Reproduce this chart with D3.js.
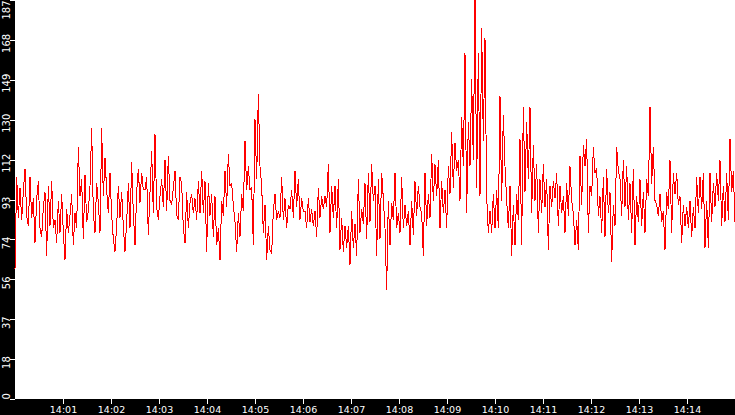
<!DOCTYPE html>
<html>
<head>
<meta charset="utf-8">
<script src="https://cdn.jsdelivr.net/npm/d3@7"></script>
<style>
  body { margin: 0; background: #fff; }
  svg { display: block; }
</style>
</head>
<body>
<svg id="chart"></svg>
<script>
const w = 735;
const h = 415;
const left = 15;
const bottom = 16;

// samples from 14:00 to 14:15 in four stretches
const startTime = "2024-01-01 14:00:00";
const endTime = "2024-01-01 14:15:00";

const valuesA = [61,104, 85,99, 84,97, 108,86, 81,104, 85,94, 73,94, 102,80, 76,90, 97,67,
  100,81, 102,80, 84,73, 93,78, 96,78, 65,89, 78,86, 96,72, 87,80, 118,95,
  103,75, 105,83, 88,100, 127,87, 78,101, 92,78, 127,95, 113,98, 87,106, 86,75,
  69,81, 100,85, 97,81, 69,83, 101,80, 111,87, 72,97, 108,92, 106,98, 98,104,
  77,97, 116,87, 124,90, 84,95, 103,90, 112,88, 114,93, 91,99, 107,86, 84,104,
  101,80, 73,97, 80,92, 96,87];
const valuesB = [94,84, 102,87, 107,87, 102,69, 101,86, 96,76, 95,72, 80,65, 93,86, 107,90,
  115,100, 101,91, 83,69, 87,76, 96,88, 121,98, 109,98, 99,72, 131,103, 143,109,
  100,78, 91,65, 81,70, 68,88, 96,84, 88,85, 104,84, 94,80, 91,89, 98,85,
  107,90, 103,84, 94,88, 88,80, 94,83, 89,81, 88,76, 99,85, 95,89, 95,90,
  110,78, 100,85, 100,80, 103,70, 85,69, 81,71, 81,63, 88,71, 82,67, 103,78,
  89,82, 101,75, 106,83, 110,93];
const valuesC = [100,67, 103,75, 106,94, 80,51, 93,72, 92,84, 106,80, 87,78, 104,80, 91,81,
  88,72, 93,77, 102,86, 100,90, 87,67, 106,81, 96,85, 115,93, 110,95, 112,80,
  102,87, 98,80, 109,96, 125,99, 120,107, 112,93, 132,109, 162,87, 130,109, 150,112,
  187,99,162, 95,174, 121,169, 95,78, 88,78, 96,80, 98,80, 142,93, 133,109, 93,80,
  100,67, 91,72, 96,84, 122,72, 137,97, 130,103, 137,87, 119,93, 110,78, 103,87,
  110,90, 103,70, 100,90, 102,94];
const valuesD = [106,81, 100,87, 95,78, 101,86, 109,93, 87,72, 84,70, 114,91, 119,109, 122,78,
  100,95, 118,106, 108,86, 95,78, 104,76, 108,87, 97,64, 91,81, 118,107, 103,86,
  112,90, 109,84, 101,78, 108,72, 95,83, 103,81, 97,78, 103,95, 137,101, 118,93,
  91,86, 96,83, 88,70, 97,89, 112,78, 106,96, 106,91, 95,73, 91,81, 90,80,
  93,76, 90,80, 104,87, 104,89, 106,71, 93,71, 106,83, 101,90, 106,93, 112,81,
  100,83, 106,84, 122,97, 107,83];

const xTickLabels = ["14:01", "14:02", "14:03", "14:04", "14:05", "14:06", "14:07",
  "14:08", "14:09", "14:10", "14:11", "14:12", "14:13", "14:14"];

const parseFull = d3.timeParse("%Y-%m-%d %H:%M:%S");
const parseTick = d3.timeParse("%Y-%m-%d %H:%M");
const t0 = parseFull(startTime);
const t1 = parseFull(endTime);

const values = [...valuesA, ...valuesB, ...valuesC, ...valuesD];
const step = (t1 - t0) / (values.length - 1);
const data = values.map((v, i) => ({ t: new Date(+t0 + i * step), v }));

const yMax = d3.max(values);
const yTicks = d3.range(0, 11).map(k => yMax * k / 10);

const svg = d3.select("#chart")
  .attr("width", w)
  .attr("height", h);

const x = d3.scaleTime()
  .domain([t0, t1])
  .range([left, w]);

const y = d3.scaleLinear()
  .domain([0, yMax])
  .range([h - bottom, 0]);

svg.append("rect")
  .attr("x", 0).attr("y", 0)
  .attr("width", left).attr("height", h)
  .attr("fill", "#000");

svg.append("rect")
  .attr("x", 0).attr("y", h - bottom)
  .attr("width", w).attr("height", bottom)
  .attr("fill", "#000");

const line = d3.line()
  .x(d => x(d.t))
  .y(d => y(d.v));

svg.append("path")
  .datum(data)
  .attr("fill", "none")
  .attr("stroke", "#ff0000")
  .attr("stroke-width", 1)
  .attr("shape-rendering", "crispEdges")
  .attr("d", line);

const xAxis = d3.axisBottom(x)
  .tickValues(xTickLabels.map(s => parseTick("2024-01-01 " + s)))
  .tickFormat(d3.timeFormat("%H:%M"))
  .tickSize(5)
  .tickPadding(2);

const gx = svg.append("g")
  .attr("transform", `translate(0, ${h - bottom})`)
  .call(xAxis);
gx.select(".domain").remove();
gx.selectAll("line").attr("stroke", "#fff").attr("shape-rendering", "crispEdges");
gx.selectAll("text")
  .attr("fill", "#fff")
  .style("font-family", "'DejaVu Sans', sans-serif")
  .style("font-size", "9.5px");

const yAxis = d3.axisLeft(y)
  .tickValues(yTicks)
  .tickFormat(d => Math.floor(d))
  .tickSize(5);

const gy = svg.append("g")
  .attr("transform", `translate(${left}, 0)`)
  .call(yAxis);
gy.select(".domain").remove();
gy.selectAll("line").attr("stroke", "#fff").attr("shape-rendering", "crispEdges");
gy.selectAll("text")
  .attr("fill", "#fff")
  .attr("x", 0)
  .attr("y", 0)
  .attr("dy", 0)
  .attr("text-anchor", "middle")
  .style("font-family", "'DejaVu Sans', sans-serif")
  .style("font-size", "10px")
  .each(function(d) {
    const half = this.getComputedTextLength() / 2;
    const ty = y(d);
    const cy = Math.min(Math.max(ty + 3, half), h - bottom - half);
    d3.select(this).attr("transform", `translate(-5, ${cy - ty}) rotate(-90)`);
  });
</script>
</body>
</html>
